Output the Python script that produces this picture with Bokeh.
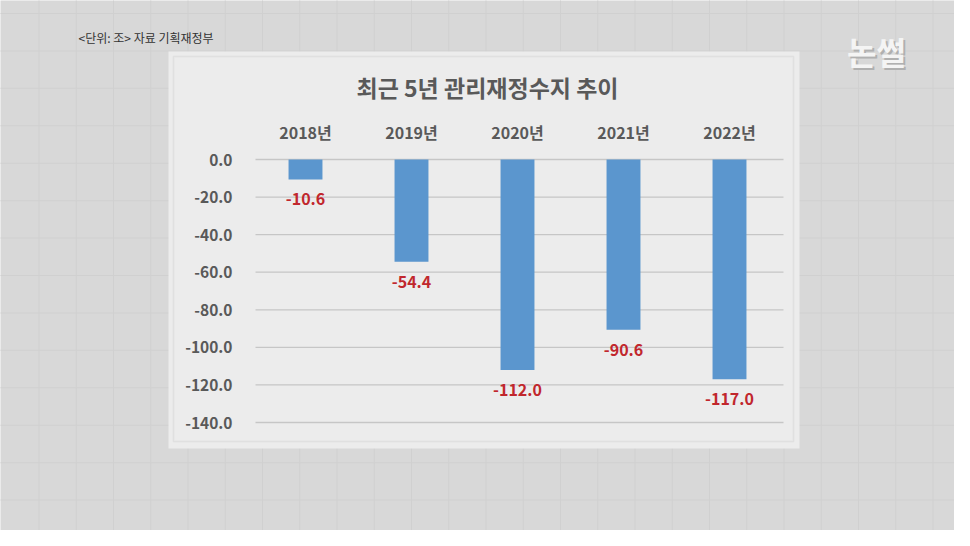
from bokeh.plotting import figure
from bokeh.models import Range1d, BoxAnnotation, Label
from bokeh.core.properties import value
from bokeh.embed import file_html
from bokeh.resources import INLINE

# ---- data ----
years = ["2018년", "2019년", "2020년", "2021년", "2022년"]
balance = [-10.6, -54.4, -112.0, -90.6, -117.0]
balance_labels = ["-10.6", "-54.4", "-112.0", "-90.6", "-117.0"]
y_ticks = [0, -20, -40, -60, -80, -100, -120, -140]
y_tick_labels = ["0.0", "-20.0", "-40.0", "-60.0", "-80.0", "-100.0", "-120.0", "-140.0"]
title_text = "최근 5년 관리재정수지 추이"
source_text = "<단위: 조> 자료 기획재정부"
logo_text = "논썰"

# ---- layout constants (pixels) ----
W, H = 954, 530
X0, STEP = 305.0, 106.0          # pixel centre of first category, spacing between categories
Y0, PXU = 159.0, 263.0 / 140.0   # pixel row of value 0, pixels per unit

def dx(px):
    return (px - X0) / STEP

def dy(py):
    return (Y0 - py) / PXU

FONT = "Noto Sans CJK KR"
OUTER = "#d8d8d8"
PANEL = "#ececec"
AXIS_TXT = "#595959"

p = figure(width=W, height=H, x_range=Range1d(dx(0), dx(W)), y_range=Range1d(dy(H), dy(0)),
           x_axis_type=None, y_axis_type=None, output_backend="svg", toolbar_location=None,
           title=None, min_border=0)
p.background_fill_color = OUTER
p.border_fill_color = OUTER
p.outline_line_color = None

# ---- decorative background ----
for k in range(26):
    px = 38 + 37.25 * k
    p.add_layout(BoxAnnotation(left=dx(px), right=dx(px + 1.0), top=dy(-5), bottom=dy(H + 5),
                               fill_color="#d0d0d0", fill_alpha=1, line_color=None, level="image"))
for k in range(15):
    py = 13 + 37.43 * k
    p.add_layout(BoxAnnotation(left=dx(-5), right=dx(W + 5), top=dy(py - 0.5), bottom=dy(py + 0.5),
                               fill_color="#d0d0d0", fill_alpha=1, line_color=None, level="image"))
# panel and its inner border
p.add_layout(BoxAnnotation(left=dx(168), right=dx(799), top=dy(51), bottom=dy(448),
                           fill_color=PANEL, fill_alpha=1, line_color=None, level="image"))
p.add_layout(BoxAnnotation(left=dx(173), right=dx(793), top=dy(56), bottom=dy(441),
                           fill_alpha=0, line_color="#c4c4c4", line_width=1.5, level="image"))

idx = list(range(len(years)))

# ---- gridlines ----
p.segment(x0=dx(255), x1=dx(783), y0=y_ticks, y1=y_ticks, line_color="#c6c6c6", line_width=1.3)

# ---- bars ----
p.vbar(x=idx, top=0, bottom=balance, width=0.32, fill_color="#5b96ce", line_color=None)
p.text(x=idx, y=balance, text=balance_labels, text_align="center", text_baseline="middle",
       y_offset=20, text_font=value(FONT), text_font_size="16px", text_font_style="bold",
       text_color="#c1272d")

# ---- category labels (top) and value-axis labels (left) ----
p.text(x=idx, y=[0] * len(years), text=years, text_align="center", text_baseline="middle",
       y_offset=-28, text_font=value(FONT), text_font_size="16px", text_font_style="bold",
       text_color=AXIS_TXT)
p.text(x=[dx(252)] * len(y_ticks), y=y_ticks, text=y_tick_labels, text_align="right",
       text_baseline="middle", x_offset=-20, text_font=value(FONT), text_font_size="15.5px",
       text_font_style="bold", text_color=AXIS_TXT)

# ---- texts ----
p.add_layout(Label(x=dx(487), y=dy(86), text=title_text,
                   text_align="center", text_baseline="middle", text_font=FONT,
                   text_font_size="23px", text_font_style="bold", text_color=AXIS_TXT))
p.add_layout(Label(x=dx(78), y=dy(37), text=source_text,
                   text_align="left", text_baseline="middle", text_font=FONT,
                   text_font_size="12px", text_color="#333333"))
p.add_layout(Label(x=dx(878), y=dy(52), text=logo_text,
                   text_align="center", text_baseline="middle", text_font=FONT,
                   text_font_size="32px", text_font_style="bold", text_color="#b0b0b0"))
p.add_layout(Label(x=dx(876), y=dy(50), text=logo_text,
                   text_align="center", text_baseline="middle", text_font=FONT,
                   text_font_size="32px", text_font_style="bold", text_color="#f4f4f4"))

open("out.html", "w").write(file_html(p, INLINE))
